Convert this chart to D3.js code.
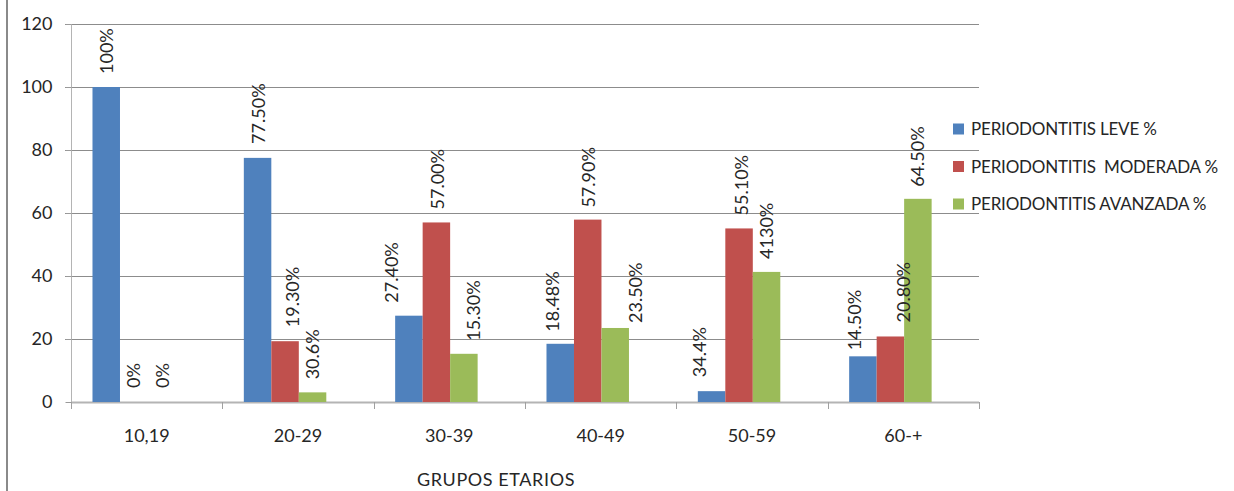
<!DOCTYPE html>
<html>
<head>
<meta charset="utf-8">
<script src="https://cdn.jsdelivr.net/npm/d3@7"></script>
<style>
  html, body { margin: 0; padding: 0; background: #fff; }
  svg { display: block; font-family: Lato, "Open Sans", sans-serif; }
  text { fill: #262626; }
</style>
</head>
<body>
<svg id="chart" width="1234" height="491"></svg>
<script>
// Age groups on the x axis
const categories = ["10,19", "20-29", "30-39", "40-49", "50-59", "60-+"];

// Series names (legend) and values in %
const seriesNames = ["PERIODONTITIS LEVE %", "PERIODONTITIS  MODERADA %", "PERIODONTITIS AVANZADA %"];
const leve     = [100, 77.5, 27.4, 18.48, 3.44, 14.5];
const moderada = [0, 19.3, 57.0, 57.9, 55.1, 20.8];
const avanzada = [0, 3.06, 15.3, 23.5, 41.3, 64.5];

// Data label texts as printed above each bar
const leveLabels     = ["100%", "77.50%", "27.40%", "18.48%", "34.4%", "14.50%"];
const moderadaLabels = ["0%", "19.30%", "57.00%", "57.90%", "55.10%", "20.80%"];
const avanzadaLabels = ["0%", "30.6%", "15.30%", "23.50%", "4130%", "64.50%"];

// Y axis ticks
const yTicks = [0, 20, 40, 60, 80, 100, 120];

// Hand-placed label nudges [dx, dy] in pixels, per series and group
const labelNudge = [
  [[0, 0], [1, -1], [-17, 0], [-8, 1], [-12, -1], [-8, 7]],
  [[0, -1], [7, -1], [1, 0], [1, 1], [2, 0], [13, -1]],
  [[1, -1], [0, 0], [10, 0], [20, 8], [0, 0], [0, 1]]
];

const colors = ["#4F81BD", "#C0504D", "#9BBB59"];
const values = [leve, moderada, avanzada];
const labels = [leveLabels, moderadaLabels, avanzadaLabels];

const svg = d3.select("#chart");

const plot = { left: 71, right: 979, top: 24, bottom: 402 };

const y = d3.scaleLinear().domain([0, 120]).range([plot.bottom, plot.top]);
const x0 = d3.scaleBand().domain(categories).range([plot.left, plot.right]).padding(0);
const x1 = d3.scaleBand().domain(d3.range(seriesNames.length))
  .range([x0.bandwidth() * 0.142, x0.bandwidth() * 0.687]).padding(0);

// Outer frame: left border line
svg.append("line")
  .attr("x1", 7).attr("x2", 7).attr("y1", 0).attr("y2", 491)
  .attr("stroke", "#8a8a8a").attr("stroke-width", 2);

// Horizontal gridlines
svg.append("g")
  .selectAll("line")
  .data(yTicks.filter(d => d > 0))
  .join("line")
  .attr("x1", plot.left - 6).attr("x2", plot.right)
  .attr("y1", d => Math.round(y(d)) + 0.5).attr("y2", d => Math.round(y(d)) + 0.5)
  .attr("stroke", "#8c8c8c").attr("stroke-width", 1);

// Y axis
const yAxis = svg.append("g")
  .attr("transform", `translate(${plot.left + 0.5},0)`)
  .call(d3.axisLeft(y).tickValues(yTicks).tickSize(6).tickPadding(13));
yAxis.select(".domain").attr("stroke", "#b4b4b4").attr("d", `M0,${plot.top}V${plot.bottom + 7}`);
yAxis.selectAll(".tick line").attr("stroke", "#9a9a9a");
yAxis.selectAll(".tick text")
  .attr("font-size", 18).attr("font-family", "Lato").attr("fill", "#262626");

// X axis line with boundary ticks
svg.append("line")
  .attr("x1", plot.left).attr("x2", plot.right)
  .attr("y1", plot.bottom + 0.5).attr("y2", plot.bottom + 0.5)
  .attr("stroke", "#b4b4b4").attr("stroke-width", 2);
const boundaries = categories.map(c => x0(c)).concat([x0(categories[categories.length - 1]) + x0.bandwidth()]);
svg.append("g").selectAll("line")
  .data(boundaries)
  .join("line")
  .attr("x1", d => Math.round(d) + 0.5).attr("x2", d => Math.round(d) + 0.5)
  .attr("y1", plot.bottom).attr("y2", plot.bottom + 7)
  .attr("stroke", "#a0a0a0");

// Category labels
svg.append("g").selectAll("text")
  .data(categories)
  .join("text")
  .attr("x", d => x0(d) + x0.bandwidth() / 2)
  .attr("y", 442)
  .attr("text-anchor", "middle")
  .attr("font-size", 18)
  .text(d => d);

// Bars
const groups = svg.append("g").selectAll("g")
  .data(categories)
  .join("g")
  .attr("transform", d => `translate(${x0(d)},0)`);

groups.selectAll("rect")
  .data((c, ci) => values.map((vals, si) => ({ si, ci, v: vals[ci] })))
  .join("rect")
  .attr("x", d => x1(d.si))
  .attr("width", x1.bandwidth())
  .attr("y", d => y(d.v))
  .attr("height", d => y(0) - y(d.v))
  .attr("fill", d => colors[d.si]);

// Rotated data labels
groups.selectAll("text")
  .data((c, ci) => values.map((vals, si) => ({ si, ci, v: vals[ci] })))
  .join("text")
  .attr("transform", d => {
    const cx = x1(d.si) + x1.bandwidth() / 2 + labelNudge[d.si][d.ci][0];
    const ty = y(d.v) - 13 + labelNudge[d.si][d.ci][1];
    return `translate(${cx},${ty}) rotate(-90)`;
  })
  .attr("dy", "0.36em")
  .attr("font-size", 18)
  .attr("text-anchor", "start")
  .text(d => labels[d.si][d.ci]);

// Legend
const legend = svg.append("g").selectAll("g")
  .data(seriesNames)
  .join("g")
  .attr("transform", (d, i) => `translate(953,${129 + i * 37.5})`);
legend.append("rect")
  .attr("x", 0).attr("y", -5.5).attr("width", 11).attr("height", 11)
  .attr("fill", (d, i) => colors[i]);
legend.append("text")
  .attr("x", 18).attr("y", 0).attr("dy", "0.36em")
  .attr("font-size", 17)
  .attr("letter-spacing", -0.2)
  .style("white-space", "pre")
  .text(d => d);

// Axis title
svg.append("text")
  .attr("x", 496).attr("y", 486)
  .attr("text-anchor", "middle")
  .attr("font-size", 18)
  .attr("letter-spacing", 0.6)
  .text("GRUPOS ETARIOS");
</script>
</body>
</html>
